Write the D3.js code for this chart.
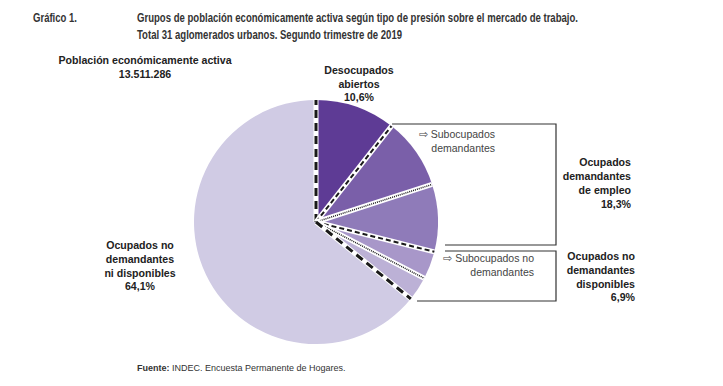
<!DOCTYPE html>
<html>
<head>
<style>
  body { margin: 0; background: #fff; }
  svg text { font-family: "Liberation Sans", Arial, sans-serif; fill: #222; }
  .title { font-weight: bold; font-size: 12.5px; fill: #333; }
  .lbl { font-weight: bold; font-size: 10.6px; }
  .sub { font-size: 10.5px; fill: #444; }
</style>
</head>
<body>
<script src="https://d3js.org/d3.v7.min.js"></script>
<script>
// slice categories and shares (%), clockwise from 12 o'clock
const categories = ["Desocupados abiertos", "Subocupados demandantes", "Otros ocupados demandantes",
  "Subocupados no demandantes", "Otros ocupados no demandantes disponibles", "Ocupados no demandantes ni disponibles"];
const values = [10.6, 9.4, 8.9, 3.7, 3.2, 64.1];
const colors = ["#5e3b95", "#7a5fa9", "#8f7bb9", "#a897c9", "#bcb1d6", "#d0cbe4"];
// separator style at the start of each slice
const sepStyle = ["thick", "dash", "dot", "dash", "dot", "thick"];

const W = 723, H = 386;
const cx = 316, cy = 222, R = 122;

const svg = d3.select("body").append("svg").attr("width", W).attr("height", H);

// title (condensed look: squeeze to the reference widths)
function title(s, x, y, len) {
  svg.append("text").attr("class", "title").attr("x", x).attr("y", y)
    .attr("textLength", len).attr("lengthAdjust", "spacingAndGlyphs").text(s);
}
title("Gráfico 1.", 33, 22, 44);
title("Grupos de población económicamente activa según tipo de presión sobre el mercado de trabajo.", 137, 22, 441);
title("Total 31 aglomerados urbanos. Segundo trimestre de 2019", 137, 39, 265);

const pie = d3.pie().sort(null).value(d => d)(values);
const arc = d3.arc().innerRadius(0).outerRadius(R);

const g = svg.append("g").attr("transform", `translate(${cx},${cy})`);

g.selectAll("path.slice")
  .data(pie)
  .join("path")
  .attr("class", "slice")
  .attr("d", arc)
  .attr("fill", (d, i) => colors[i]);

// separator lines: white band with black dashes on top
const styles = {
  thick: { w: 3, dash: "8,5" },
  dash: { w: 2, dash: "5,3" },
  dot: { w: 1.5, dash: "1,1" }
};
pie.forEach((d, i) => {
  const a = d.startAngle;
  const x2 = Math.sin(a) * R, y2 = -Math.cos(a) * R;
  g.append("line").attr("x1", 0).attr("y1", 0).attr("x2", x2).attr("y2", y2)
    .attr("stroke", "#fff").attr("stroke-width", 5);
  const s = styles[sepStyle[i]];
  g.append("line").attr("x1", 0).attr("y1", 0).attr("x2", x2).attr("y2", y2)
    .attr("stroke", "#1a1a1a").attr("stroke-width", s.w).attr("stroke-dasharray", s.dash);
});

// bracket boxes for grouped categories
const edge = (a, r) => [cx + Math.sin(a) * r, cy - Math.cos(a) * r];
const p1 = edge(pie[1].startAngle, R + 1);
const p2 = edge(pie[4].endAngle, R + 8);
const line = d3.line();
svg.append("path")
  .attr("d", line([[p1[0], 124], [556, 124], [556, 245], [445, 245]]))
  .attr("fill", "none").attr("stroke", "#333").attr("stroke-width", 1.2);
svg.append("path")
  .attr("d", line([[445, 251], [556, 251], [556, 301], [p2[0], 301]]))
  .attr("fill", "none").attr("stroke", "#333").attr("stroke-width", 1.2);

function multi(lines, x, y, anchor, cls, lh) {
  const t = svg.append("text").attr("class", cls).attr("text-anchor", anchor);
  lines.forEach((s, i) => t.append("tspan").attr("x", x).attr("y", y + i * lh).text(s));
}

multi(["Población económicamente activa", "13.511.286"], 145, 64, "middle", "lbl", 13.5);
multi(["Desocupados", "abiertos", "10,6%"], 359, 74, "middle", "lbl", 13.5);
multi(["Ocupados no", "demandantes", "ni disponibles", "64,1%"], 140, 249, "middle", "lbl", 13.8);
multi(["Ocupados", "demandantes", "de empleo", "18,3%"], 631, 166, "end", "lbl", 14);
multi(["Ocupados no", "demandantes", "disponibles", "6,9%"], 635, 260, "end", "lbl", 13.8);

multi(["⇨ Subocupados", "demandantes"], 495, 138, "end", "sub", 13.5);
multi(["⇨ Subocupados no", "demandantes"], 534, 262, "end", "sub", 13.5);

// source
const f = svg.append("text").attr("x", 137).attr("y", 371).style("font-size", "9px").style("fill", "#333");
f.append("tspan").style("font-weight", "bold").text("Fuente:");
f.append("tspan").text(" INDEC. Encuesta Permanente de Hogares.");
</script>
</body>
</html>
